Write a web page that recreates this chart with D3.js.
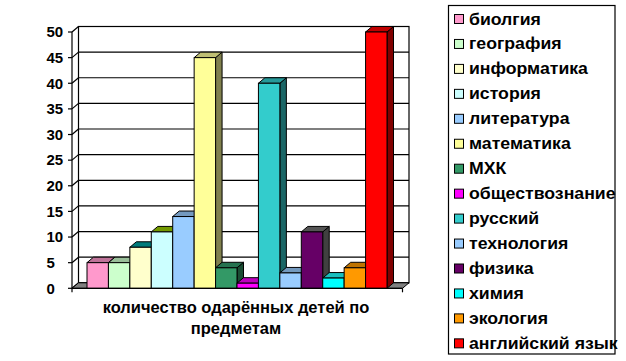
<!DOCTYPE html>
<html><head><meta charset="utf-8">
<script src="https://cdn.jsdelivr.net/npm/d3@7"></script>
<style>
html,body{margin:0;padding:0;background:#fff;}
svg text{font-family:"Liberation Sans",Arial,sans-serif;font-weight:bold;fill:#000;}
</style></head><body>
<script>
const series = ["биолгия","география","информатика","история","литература","математика","МХК","обществознание","русский","технология","физика","химия","экология","английский язык"];
const values = [5,5,8,11,14,45,4,1,40,3,11,2,4,50];
const frontColors = ["#FF99CC","#CCFFCC","#FFFFCC","#CCFFFF","#99CCFF","#FFFF99","#339966","#FF00FF","#33CCCC","#99CCFF","#660066","#00FFFF","#FF9900","#FF0000"];
const topColors = ["#BF7399","#99BF99","#007B7B","#739900","#7399BF","#BFBF73","#267350","#BF00BF","#269999","#7399BF","#555555","#19BFBF","#BF7300","#BF0000"];
const sideColors = ["#804D66","#668066","#808066","#668080","#4D6680","#80804D","#1A4D33","#800080","#1A6666","#4D6680","#404040","#008080","#804D00","#800000"];
const yTicks = [0,5,10,15,20,25,30,35,40,45,50];
const categoryTitle = ["количество одарённых детей по","предметам"];

const W=626,H=361;
const svg=d3.select("body").append("svg").attr("width",W).attr("height",H);
const fx0=72, fx1=402.5, yBase=288.3, yTop=32;
const DX=6.5, DY=-5.5;
const y=d3.scaleLinear().domain([0,50]).range([yBase,yTop]);
const x=d3.scaleBand().domain(series).range([fx0+15, fx1-15.5]).padding(0);

const line=(pts)=>"M"+pts.map(p=>p.join(",")).join("L")+"Z";

// back wall
svg.append("rect").attr("x",fx0+DX).attr("y",y(50)+DY).attr("width",fx1-fx0).attr("height",yBase-yTop)
  .attr("fill","#fff").attr("stroke","#000").attr("stroke-width",1.2);
const g=svg.append("g").attr("stroke","#000").attr("stroke-width",1.2);
yTicks.forEach(t=>{
  g.append("line").attr("x1",fx0+DX).attr("x2",fx1+DX).attr("y1",y(t)+DY).attr("y2",y(t)+DY);
  g.append("line").attr("x1",fx0).attr("x2",fx0+DX).attr("y1",y(t)).attr("y2",y(t)+DY);
  g.append("line").attr("x1",fx0-4).attr("x2",fx0).attr("y1",y(t)).attr("y2",y(t));
});
// floor
svg.append("path").attr("d",line([[fx0,yBase],[fx1,yBase],[fx1+DX,yBase+DY],[fx0+DX,yBase+DY]]))
  .attr("fill","#808080").attr("stroke","#000").attr("stroke-width",1);

// bars
const bars=svg.append("g").attr("stroke","#000").attr("stroke-width",1).attr("stroke-linejoin","miter");
series.forEach((s,i)=>{
  const x0=x(s), x1=x(s)+x.bandwidth(), yt=y(values[i]);
  const bg=bars.append("g");
  bg.append("path").attr("d",line([[x1,yBase],[x1+DX,yBase+DY],[x1+DX,yt+DY],[x1,yt]])).attr("fill",sideColors[i]);
  bg.append("path").attr("d",line([[x0,yt],[x1,yt],[x1+DX,yt+DY],[x0+DX,yt+DY]])).attr("fill",topColors[i]);
  bg.append("rect").attr("x",x0).attr("y",yt).attr("width",x1-x0).attr("height",yBase-yt).attr("fill",frontColors[i]);
});

// axes
const ax=svg.append("g").attr("stroke","#000").attr("stroke-width",1.2);
ax.append("line").attr("x1",fx0).attr("x2",fx0).attr("y1",yTop).attr("y2",yBase+4);
ax.append("line").attr("x1",fx0).attr("x2",fx1).attr("y1",yBase).attr("y2",yBase);
ax.append("line").attr("x1",fx1).attr("x2",fx1).attr("y1",yBase).attr("y2",yBase+4);

svg.append("g").selectAll("text").data(yTicks).join("text")
  .attr("x",46.5).attr("y",d=>y(d)+5.3).attr("font-size",15).text(d=>d);

svg.append("g").selectAll("text").data(categoryTitle).join("text")
  .attr("x",236).attr("y",(d,i)=>312.7+i*20.8).attr("text-anchor","middle").attr("font-size",16.5).text(d=>d);

// legend
svg.append("rect").attr("x",448.5).attr("y",5.5).attr("width",166.5).attr("height",348.5)
  .attr("fill","#fff").attr("stroke","#000").attr("stroke-width",1.2);
const lg=svg.append("g");
series.forEach((s,i)=>{
  const cy=19+i*24.95;
  lg.append("rect").attr("x",454.5).attr("y",cy-4.5).attr("width",9).attr("height",9)
    .attr("fill",frontColors[i]).attr("stroke","#000").attr("stroke-width",1);
  lg.append("text").attr("transform",`translate(469,${cy+5.5}) scale(1.04,1)`).attr("font-size",17).text(s);
});
</script>
</body></html>
